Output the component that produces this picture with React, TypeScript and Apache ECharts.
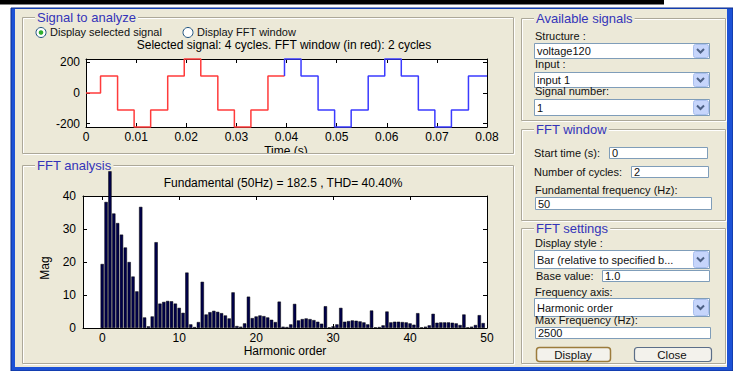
import React, { useEffect, useRef } from 'react';
import * as echarts from 'echarts';

const FONT = '"Liberation Sans", Arial, Helvetica, sans-serif';
const BG = '#ece9d8';

// ---------- Signal (time domain) ----------
const redTimes = [0, 0.0029, 0.0063, 0.0096, 0.0129, 0.0163, 0.0196, 0.0229, 0.0263, 0.0296, 0.0329, 0.0363, 0.0396];
const redLevels = [0, 111, -111, -222, -111, 111, 222, 111, -111, -222, -111, 111, 111];
const blueTimes = [0.0396, 0.0396, 0.0429, 0.0463, 0.0496, 0.0529, 0.0563, 0.0596, 0.0629, 0.0663, 0.0696, 0.0729, 0.0763, 0.08];
const blueLevels = [111, 222, 111, -111, -222, -111, 111, 222, 111, -111, -222, -111, 111, 111];
const signalTimeTicks = [0, 0.01, 0.02, 0.03, 0.04, 0.05, 0.06, 0.07, 0.08];
const signalValueTicks = [-200, 0, 200];

// ---------- FFT ----------
const harmonicOrders = [
  0, 0.5, 1, 1.5, 2, 2.5, 3, 3.5, 4, 4.5, 5, 5.5, 6, 6.5, 7, 7.5, 8, 8.5, 9, 9.5,
  10, 10.5, 11, 11.5, 12, 12.5, 13, 13.5, 14, 14.5, 15, 15.5, 16, 16.5, 17, 17.5, 18, 18.5, 19, 19.5,
  20, 20.5, 21, 21.5, 22, 22.5, 23, 23.5, 24, 24.5, 25, 25.5, 26, 26.5, 27, 27.5, 28, 28.5, 29, 29.5,
  30, 30.5, 31, 31.5, 32, 32.5, 33, 33.5, 34, 34.5, 35, 35.5, 36, 36.5, 37, 37.5, 38, 38.5, 39, 39.5,
  40, 40.5, 41, 41.5, 42, 42.5, 43, 43.5, 44, 44.5, 45, 45.5, 46, 46.5, 47, 47.5, 48, 48.5, 49, 49.5,
];
// visible magnitudes (fundamental bar is shown cut off at the top of the panel)
const magnitudes = [
  19.4, 38.2, 47.5, 34.7, 31.8, 28.3, 24.4, 20.0, 15.6, 11.1, 36.7, 3.2, 0.5, 3.5, 26.0, 7.4, 7.9, 8.2, 8.1, 7.4,
  6.1, 4.6, 16.8, 1.1, 0.3, 1.8, 14.0, 4.1, 4.8, 5.2, 4.9, 4.5, 3.8, 2.9, 10.8, 0.6, 0.4, 1.4, 9.5, 3.0,
  3.5, 3.8, 3.6, 3.2, 2.5, 1.8, 8.0, 0.4, 0.3, 1.1, 7.3, 2.3, 2.7, 2.9, 2.7, 2.4, 1.9, 1.3, 6.6, 0.2,
  0.5, 1.1, 6.1, 1.9, 2.1, 2.3, 2.2, 2.0, 1.7, 1.1, 5.3, 0.2, 0.3, 0.8, 5.0, 1.7, 1.9, 1.9, 1.8, 1.7,
  1.4, 1.0, 4.5, 0.2, 0.4, 0.8, 4.3, 1.6, 1.7, 1.7, 1.7, 1.6, 1.4, 0.9, 4.1, 0.2, 0.4, 0.9, 3.9, 1.5,
];
const harmonicTicks = [0, 10, 20, 30, 40, 50];
const magTicks = [0, 10, 20, 30, 40];

// ---------- helpers ----------
function txt(x: number, y: number, text: string, o: any = {}) {
  return {
    type: 'text', x, y, z: o.z ?? 1, rotation: o.rotation ?? 0,
    style: {
      text, fill: o.color ?? '#111', fontSize: o.size ?? 11, fontFamily: FONT,
      fontWeight: o.weight ?? 'normal',
      align: o.align ?? 'left', textAlign: o.align ?? 'left',
      verticalAlign: 'middle', textVerticalAlign: 'middle',
      backgroundColor: o.bg, padding: o.pad,
    },
  };
}
function rect(x: number, y: number, w: number, h: number, style: any, z = -1, r = 0) {
  return { type: 'rect', z, shape: { x, y, width: w, height: h, r }, style };
}
function panel(x: number, y: number, w: number, h: number, title: string) {
  return [
    rect(x + 1.5, y + 1.5, w, h, { fill: 'none', stroke: '#ffffff', lineWidth: 1 }),
    rect(x + 0.5, y + 0.5, w, h, { fill: 'none', stroke: '#aca899', lineWidth: 1 }),
    txt(x + 13, y + 0.5, title, { size: 13, color: '#3434b8', bg: BG, pad: [0, 2] }),
  ];
}
function dropdown(x: number, y: number, w: number, h: number, text: string) {
  const cx = x + w - 8.5;
  const cy = y + h / 2;
  return [
    rect(x + 0.5, y + 0.5, w, h, { fill: '#ffffff', stroke: '#7f9db9', lineWidth: 1 }),
    rect(x + w - 15.5, y + 1.5, 15, h - 2, { fill: '#c6d5fb', stroke: '#a9bfee', lineWidth: 1 }, -1, 2),
    {
      type: 'polyline', z: 0,
      shape: { points: [[cx - 3.5, cy - 1.5], [cx, cy + 2], [cx + 3.5, cy - 1.5]] },
      style: { stroke: '#4d6185', lineWidth: 2, fill: 'none' },
    },
    txt(x + 3, y + h / 2 + 0.5, text),
  ];
}
function inputBox(x: number, y: number, w: number, h: number, text: string) {
  return [
    rect(x + 0.5, y + 0.5, w, h, { fill: '#ffffff', stroke: '#7f9db9', lineWidth: 1 }),
    txt(x + 3, y + h / 2 + 0.5, text),
  ];
}

const graphics: any[] = [
  rect(0, 0, 664, 4.5, { fill: '#000' }, -3),
  rect(11, 8, 722, 363, { fill: '#1d52d6', stroke: '#0a2a8a', lineWidth: 1 }, -3),
  rect(15, 9, 712, 358, { fill: BG }, -2),
  // plot backgrounds
  rect(86, 59, 401, 68, { fill: '#ffffff' }, -1),
  rect(83, 196, 404, 132, { fill: '#ffffff' }, -1),
  ...panel(22, 17, 491, 136, 'Signal to analyze'),
  ...panel(22, 165, 491, 198, 'FFT analysis'),
  ...panel(521, 18, 204, 102, 'Available signals'),
  ...panel(521, 129, 204, 91, 'FFT window'),
  ...panel(521, 228, 204, 135, 'FFT settings'),
  // radio buttons
  { type: 'circle', z: 1, shape: { cx: 41, cy: 32.5, r: 5 }, style: { fill: '#ffffff', stroke: '#1c5180', lineWidth: 1 } },
  { type: 'circle', z: 1, shape: { cx: 41, cy: 32.5, r: 2.3 }, style: { fill: '#2fae2f' } },
  txt(50, 32, 'Display selected signal', { size: 11 }),
  { type: 'circle', z: 1, shape: { cx: 188, cy: 32.5, r: 5 }, style: { fill: '#ffffff', stroke: '#1c5180', lineWidth: 1 } },
  txt(197, 32, 'Display FFT window', { size: 11 }),
  // plot texts
  txt(284, 45, 'Selected signal: 4 cycles. FFT window (in red): 2 cycles', { size: 12, align: 'center', color: '#000' }),
  txt(286, 151, 'Time (s)', { size: 12, align: 'center', color: '#000' }),
  rect(250, 153.5, 75, 6, { fill: BG }, 100),
  rect(250, 153, 75, 1, { fill: '#aca899' }, 101),
  rect(250, 154, 75, 1, { fill: '#ffffff' }, 101),
  txt(283, 183, 'Fundamental (50Hz) = 182.5 , THD= 40.40%', { size: 12, align: 'center', color: '#000' }),
  txt(285, 351, 'Harmonic order', { size: 12, align: 'center', color: '#000' }),
  txt(45, 268, 'Mag', { size: 12, align: 'center', color: '#000', rotation: Math.PI / 2 }),
  // available signals
  txt(535, 36, 'Structure :'),
  ...dropdown(534, 43, 175, 15, 'voltage120'),
  txt(535, 64, 'Input :'),
  ...dropdown(534, 72, 175, 15, 'input 1'),
  txt(535, 91, 'Signal number:'),
  ...dropdown(534, 99, 175, 16, '1'),
  // FFT window
  txt(534, 153, 'Start time (s):'),
  ...inputBox(609, 147, 98, 11, '0'),
  txt(534, 172, 'Number of cycles:'),
  ...inputBox(631, 166, 77, 11, '2'),
  txt(535, 190, 'Fundamental frequency (Hz):'),
  ...inputBox(535, 197, 176, 12, '50'),
  // FFT settings
  txt(535, 243, 'Display style :'),
  ...dropdown(534, 250, 175, 18, 'Bar (relative to specified b...'),
  txt(536, 276, 'Base value:'),
  ...inputBox(602, 270, 107, 11, '1.0'),
  txt(535, 292, 'Frequency axis:'),
  ...dropdown(534, 298, 175, 18, 'Harmonic order'),
  txt(535, 320, 'Max Frequency (Hz):'),
  ...inputBox(535, 327, 175, 11, '2500'),
  rect(536.5, 347.5, 74, 14, { fill: '#f3f2ec', stroke: '#9c7c3c', lineWidth: 1.5 }, 0, 3),
  txt(573, 354.5, 'Display', { align: 'center', size: 11.5 }),
  rect(634.5, 347.5, 77, 14, { fill: '#f3f2ec', stroke: '#5b6e88', lineWidth: 1.2 }, 0, 3),
  txt(672, 354.5, 'Close', { align: 'center', size: 11.5 }),
];

const axisCommon = {
  axisLine: { show: true, onZero: false, lineStyle: { color: '#000', width: 1 } },
  splitLine: { show: false },
};
const labelStyle = { color: '#000', fontSize: 12, fontFamily: FONT };

const timeFmt = (v: number) => (v === 0 ? '0' : String(+v.toFixed(2)));

const option: any = {
  animation: false,
  backgroundColor: '#ffffff',
  graphic: graphics,
  grid: [
    { left: 86, top: 59, width: 401, height: 68, show: false },
    { left: 83, top: 196, width: 404, height: 132, show: false },
  ],
  xAxis: [
    {
      gridIndex: 0, type: 'value', min: 0, max: 0.08, position: 'bottom', ...axisCommon,
      axisTick: { show: true, inside: true, length: 4, lineStyle: { color: '#000' }, customValues: signalTimeTicks },
      axisLabel: { ...labelStyle, margin: 4, customValues: signalTimeTicks, formatter: timeFmt, showMinLabel: true, showMaxLabel: true },
    },
    {
      gridIndex: 0, type: 'value', min: 0, max: 0.08, position: 'top', ...axisCommon,
      axisTick: { show: true, inside: true, length: 4, lineStyle: { color: '#000' }, customValues: signalTimeTicks },
      axisLabel: { show: false },
    },
    {
      gridIndex: 1, type: 'value', min: -2.5, max: 50, position: 'bottom', ...axisCommon,
      axisTick: { show: true, inside: true, length: 4, lineStyle: { color: '#000' }, customValues: harmonicTicks },
      axisLabel: { ...labelStyle, margin: 4, customValues: harmonicTicks, showMinLabel: true, showMaxLabel: true },
    },
    {
      gridIndex: 1, type: 'value', min: -2.5, max: 50, position: 'top', ...axisCommon,
      axisTick: { show: true, inside: true, length: 4, lineStyle: { color: '#000' }, customValues: harmonicTicks },
      axisLabel: { show: false },
    },
  ],
  yAxis: [
    {
      gridIndex: 0, type: 'value', min: -222, max: 222, position: 'left', ...axisCommon,
      axisTick: { show: true, inside: true, length: 4, lineStyle: { color: '#000' }, customValues: signalValueTicks },
      axisLabel: { ...labelStyle, margin: 6, customValues: signalValueTicks },
    },
    {
      gridIndex: 0, type: 'value', min: -222, max: 222, position: 'right', ...axisCommon,
      axisTick: { show: true, inside: true, length: 4, lineStyle: { color: '#000' }, customValues: signalValueTicks },
      axisLabel: { show: false },
    },
    {
      gridIndex: 1, type: 'value', min: 0, max: 40, interval: 10, position: 'left', ...axisCommon,
      axisTick: { show: true, inside: true, length: 4, lineStyle: { color: '#000' }, customValues: magTicks },
      axisLabel: { ...labelStyle, margin: 7, customValues: magTicks },
    },
    {
      gridIndex: 1, type: 'value', min: 0, max: 40, interval: 10, position: 'right', ...axisCommon,
      axisTick: { show: true, inside: true, length: 4, lineStyle: { color: '#000' }, customValues: magTicks },
      axisLabel: { show: false },
    },
  ],
  series: [
    {
      type: 'line', xAxisIndex: 0, yAxisIndex: 0, step: 'end', showSymbol: false, symbol: 'none', clip: false,
      lineStyle: { color: '#ff3b3b', width: 1.5 },
      data: redTimes.map((t, i) => [t, redLevels[i]]),
    },
    {
      type: 'line', xAxisIndex: 0, yAxisIndex: 0, step: 'end', showSymbol: false, symbol: 'none', clip: false,
      lineStyle: { color: '#3b3bff', width: 1.5 },
      data: blueTimes.map((t, i) => [t, blueLevels[i]]),
    },
    {
      type: 'bar', xAxisIndex: 2, yAxisIndex: 2, barWidth: 3.3, clip: false,
      itemStyle: { color: '#00004a', borderColor: '#000000', borderWidth: 0.5 },
      data: harmonicOrders.map((h, i) => [h, magnitudes[i]]),
    },
  ],
};

export default function App() {
  const ref = useRef<HTMLDivElement>(null);
  useEffect(() => {
    const chart = echarts.init(ref.current!, null, { renderer: 'svg' });
    chart.setOption(option);
    return () => chart.dispose();
  }, []);
  return <div ref={ref} style={{ position: 'absolute', left: 0, top: 0, width: 733, height: 371 }} />;
}
